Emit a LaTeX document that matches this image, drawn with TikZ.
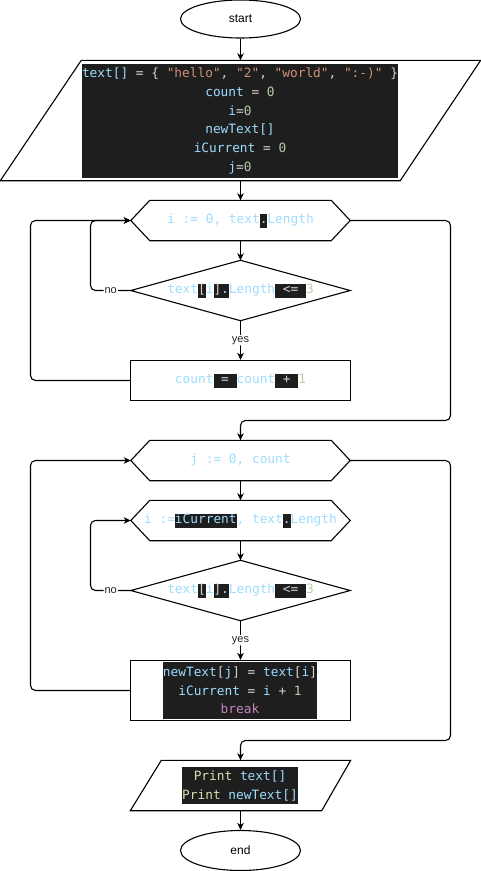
\documentclass[tikz,border=0pt]{standalone}
\usepackage{fontspec}
\setmainfont{Liberation Sans}
\newfontfamily\codefont{DejaVu Sans Mono}
\usetikzlibrary{shapes.geometric,arrows.meta,calc}
\definecolor{codebg}{HTML}{1E1E1E}
\definecolor{cvar}{HTML}{9CDCFE}
\definecolor{cop}{HTML}{D4D4D4}
\definecolor{cstr}{HTML}{CE9178}
\definecolor{cnum}{HTML}{B5CEA8}
\definecolor{cfun}{HTML}{DCDCAA}
\definecolor{ckey}{HTML}{C586C0}
\newcommand\kvar[1]{\textcolor{cvar}{#1}}
\newcommand\kop[1]{\textcolor{cop}{#1}}
\newcommand\kstr[1]{\textcolor{cstr}{#1}}
\newcommand\knum[1]{\textcolor{cnum}{#1}}
\newcommand\kfun[1]{\textcolor{cfun}{#1}}
\newcommand\kkey[1]{\textcolor{ckey}{#1}}
\newcommand\khl[2][cop]{{\setlength{\fboxsep}{0pt}\colorbox{codebg}{\rule[-4pt]{0pt}{14pt}\textcolor{#1}{#2}}}}
\newcommand\drawhex[1]{\draw[shp] (#1.west) -- ([xshift=19pt]#1.north west) -- ([xshift=-19pt]#1.north east) -- (#1.east) -- ([xshift=-19pt]#1.south east) -- ([xshift=19pt]#1.south west) -- cycle;}
\newcommand\drawdia[1]{\draw[shp] (#1.west) -- (#1.north) -- (#1.east) -- (#1.south) -- cycle;}
\begin{document}
\begin{tikzpicture}[x=1pt,y=-1pt,
  shp/.style={draw=black,line width=1.1pt,line join=miter},
  box/.style={rectangle,inner sep=0pt,font=\codefont\fontsize{12.8pt}{15pt}\selectfont},
  code/.style={rectangle,fill=codebg,inner sep=0pt,align=center,font=\codefont\fontsize{12.8pt}{18.7pt}\selectfont},
  term/.style={ellipse,draw=black,line width=1.1pt,minimum width=120pt,inner sep=0pt,font=\fontsize{12pt}{14pt}\selectfont},
  conn/.style={draw=black,line width=1.1pt,rounded corners=5pt,-{Stealth[length=7pt,width=6.5pt,inset=2pt]}},
  lbl/.style={fill=white,inner sep=1pt,font=\fontsize{11pt}{13pt}\selectfont,text=black!85}]
\useasboundingbox (0,0) rectangle (481,871);
% loop columns
\coordinate (lx1) at (90.5,0);
\coordinate (lx2) at (30.5,0);
\coordinate (rx) at (450.5,0);
\coordinate (m1) at (240.5,420.5);
\coordinate (m2) at (240.5,740.5);
% nodes
\node[term,minimum height=38pt] (start) at (240.5,19) {start};
\node[rectangle,minimum width=480pt,minimum height=120pt,inner sep=0pt] (p1) at (240.5,120.5) {};
\draw[shp] (p1.south west) -- ([xshift=81pt]p1.north west) -- (p1.north east) -- ([xshift=-80.5pt]p1.south east) -- cycle;
\node[code,minimum width=316pt,minimum height=114pt] (p1code) at (240,121) {%
\kvar{text[]} \kop{= \{} \kstr{"hello"}\kop{,} \kstr{"2"}\kop{,} \kstr{"world"}\kop{,} \kstr{":-)"} \kop{\}}\\
\kvar{count} \kop{=} \knum{0}\\
\kvar{i}\kop{=}\knum{0}\\
\kvar{newText[]}\\
\kvar{iCurrent} \kop{=} \knum{0}\\
\kvar{j}\kop{=}\knum{0}};
\node[box,minimum width=219pt,minimum height=40pt] (h1) at (240.5,220.5) {\kvar{i~:=~0,~text}\khl{.}\kvar{Length}};
\drawhex{h1}
\node[box,minimum width=219pt,minimum height=60pt] (d1) at (240.5,290.5) {\kvar{text}\khl{[}\kvar{i}\khl{].}\kvar{Length}\khl{~<=~}\knum{3}};
\drawdia{d1}
\node[box,draw=black,line width=1.1pt,minimum width=220pt,minimum height=40pt] (r1) at (240.5,380.5) {\kvar{count}\khl{~=~}\kvar{count}\khl{~+~}\knum{1}};
\node[box,minimum width=219pt,minimum height=40pt] (h2) at (240.5,460.5) {\rule[-4pt]{0pt}{14pt}\kvar{j~:=~0,~count}};
\drawhex{h2}
\node[box,minimum width=219pt,minimum height=40pt] (h3) at (240.5,520.5) {\kvar{i~:=}\khl[cvar]{iCurrent}\kvar{,~text}\khl{.}\kvar{Length}};
\drawhex{h3}
\node[box,minimum width=219pt,minimum height=60pt] (d2) at (240.5,590.5) {\kvar{text}\khl{[}\kvar{i}\khl{].}\kvar{Length}\khl{~<=~}\knum{3}};
\drawdia{d2}
\node[rectangle,draw=black,line width=1.1pt,minimum width=220pt,minimum height=60pt,inner sep=0pt] (r2) at (240.5,690.5) {};
\node[code,minimum width=154pt,minimum height=57pt] (r2code) at (240,690.5) {%
\kvar{newText}\kop{[}\kvar{j}\kop{]} \kop{=} \kvar{text}\kop{[}\kvar{i}\kop{]}\\
\kvar{iCurrent} \kop{=} \kvar{i} \kop{+} \knum{1}\\
\kkey{break}};
\node[rectangle,minimum width=220pt,minimum height=50pt,inner sep=0pt] (p2) at (240.5,785.5) {};
\draw[shp] (p2.south west) -- ([xshift=31pt]p2.north west) -- (p2.north east) -- ([xshift=-29pt]p2.south east) -- cycle;
\node[code,minimum width=116pt,minimum height=37pt] (p2code) at (240,785.7) {%
\kfun{Print} \kvar{text[]}\\
\kfun{Print} \kvar{newText[]}};
\node[term,minimum height=40pt] (end) at (240.5,850.5) {end};
% connectors
\draw[conn] (start.south) -- (start.south |- p1.north);
\draw[conn] (h1.north |- p1.south) -- (h1.north);
\draw[conn] (h1.south) -- (d1.north);
\draw[conn] (d1.south) -- node[lbl,pos=0.5]{yes} (r1.north);
\draw[conn] (d1.west) -- node[lbl]{no} (d1.west -| lx1) |- (h1.west);
\draw[conn] (r1.west) -- (r1.west -| lx2) |- (h1.west);
\draw[conn] (h1.east) -- (h1.east -| rx) -- (rx |- m1) -- (m1) -- (h2.north);
\draw[conn] (h2.south) -- (h3.north);
\draw[conn] (h3.south) -- (d2.north);
\draw[conn] (d2.south) -- node[lbl,pos=0.5]{yes} (r2.north);
\draw[conn] (d2.west) -- node[lbl]{no} (d2.west -| lx1) |- (h3.west);
\draw[conn] (r2.west) -- (r2.west -| lx2) |- (h2.west);
\draw[conn] (h2.east) -- (h2.east -| rx) -- (rx |- m2) -- (m2) -- (p2.north);
\draw[conn] (p2.south) -- (end.north);
\end{tikzpicture}
\end{document}
